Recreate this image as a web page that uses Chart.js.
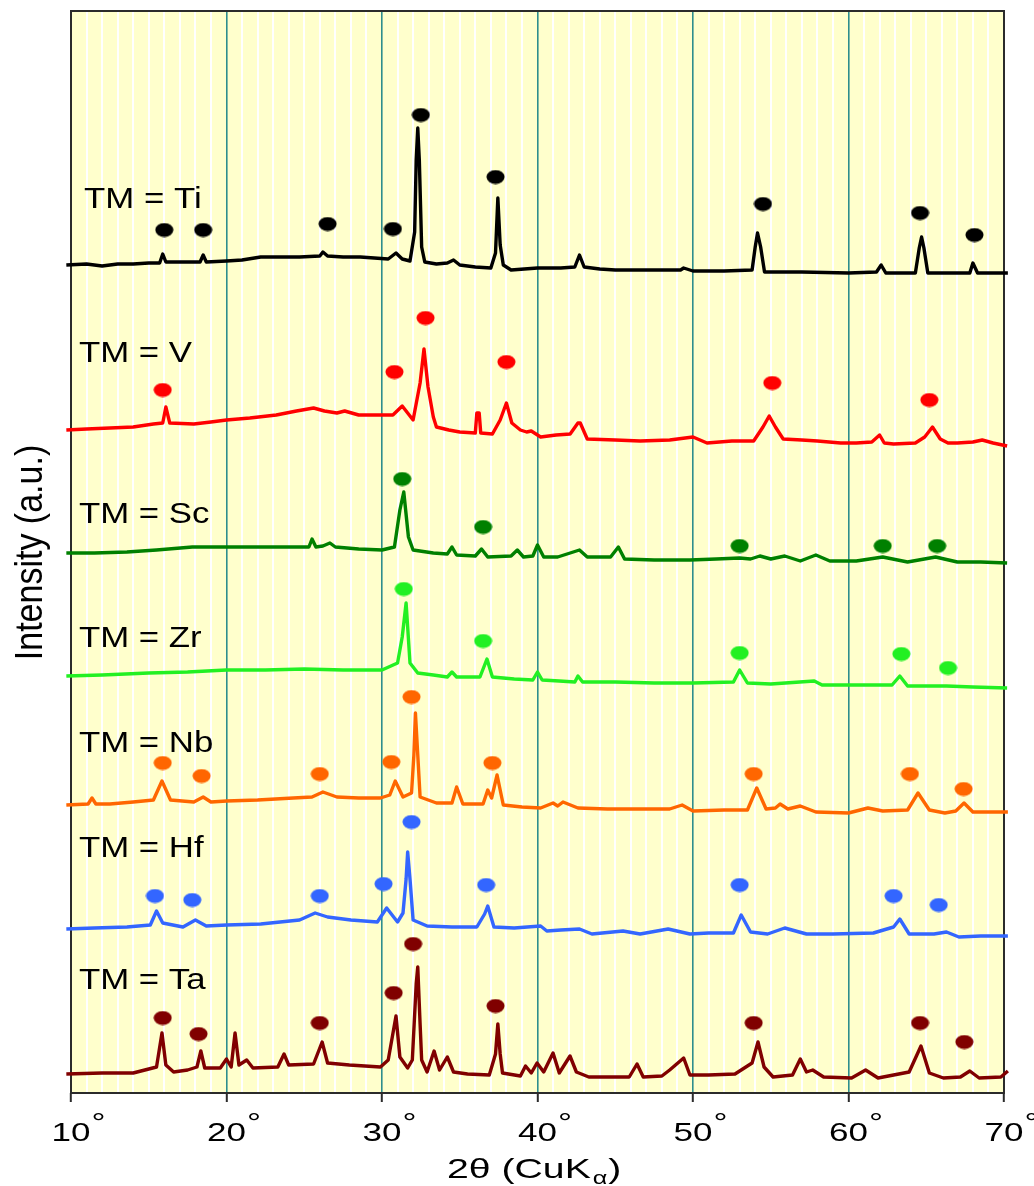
<!DOCTYPE html>
<html>
<head>
<meta charset="utf-8">
<script src="https://cdn.jsdelivr.net/npm/chart.js@4/dist/chart.umd.min.js"></script>
<style>
	html, body { margin: 0; padding: 0; background: #ffffff; }
	canvas { display: block; }
</style>
</head>
<body>
<canvas id="xrd" width="1034" height="1186"></canvas>
<script>
// XRD patterns, 2-theta (deg) vs. intensity (a.u.), one trace per TM.
var samples = ["Ti", "V", "Sc", "Zr", "Nb", "Hf", "Ta"];
var colors = ["#000000", "#ff0000", "#008000", "#22f022", "#ff6600", "#3366ff", "#800000"];
var offsets = [82.8, 66.3, 54.0, 41.7, 28.8, 16.4, 1.9];
var labelAt = [[10.84, 88.5], [10.51, 73.1], [10.51, 57.0], [10.51, 44.6], [10.51, 34.1], [10.51, 23.6], [10.51, 10.4]];
var xTicks = [10, 20, 30, 40, 50, 60, 70];

var ti = [[9.7,0],[11,0.1],[12,-0.1],[13,0.1],[14,0.1],[15,0.2],[15.7,0.2],[15.9,1.1],[16.1,0.3],[17,0.3],[18.3,0.3],[18.5,1.0],[18.7,0.3],[20,0.4],[21,0.5],[22.2,0.8],[23.5,0.8],[24.7,0.8],[26.0,0.9],[26.2,1.3],[26.5,0.9],[27.5,0.8],[28.6,0.8],[29.5,0.7],[30.4,0.6],[30.9,1.2],[31.3,0.6],[31.8,0.4],[32.1,3.3],[32.2,10.5],[32.3,13.7],[32.4,10.5],[32.55,1.8],[32.75,0.3],[33.5,0.1],[34.2,0.2],[34.6,0.5],[35.0,0],[36,-0.2],[37.0,-0.3],[37.3,1.2],[37.45,6.7],[37.6,2.0],[37.8,0],[38.3,-0.5],[40,-0.3],[41.5,-0.3],[42.4,-0.2],[42.7,1.0],[43.0,-0.2],[44,-0.4],[45,-0.5],[47,-0.5],[49.2,-0.5],[49.4,-0.3],[50,-0.6],[52,-0.6],[53.8,-0.5],[54.0,1.8],[54.15,3.2],[54.35,1.8],[54.6,-0.7],[57,-0.7],[60,-0.8],[61.8,-0.7],[62.1,0],[62.4,-0.8],[64.3,-0.8],[64.55,1.7],[64.7,2.8],[64.85,1.7],[65.1,-0.8],[67.8,-0.8],[68.0,0.2],[68.3,-0.8],[70.25,-0.8]];
var v = [[9.7,0],[11,0.1],[12.5,0.2],[14,0.3],[15.3,0.6],[15.9,0.7],[16.1,2.3],[16.35,0.7],[17.9,0.6],[19,0.8],[20,1.0],[21.5,1.2],[23.2,1.5],[24.5,1.9],[25.6,2.2],[26.3,1.9],[27.1,1.7],[27.6,1.9],[28.5,1.5],[29.7,1.5],[30.7,1.5],[31.3,2.4],[31.7,1.6],[32.0,1.0],[32.45,4.7],[32.7,8.1],[32.96,4.3],[33.3,1.3],[33.5,0.3],[34.3,0],[35,-0.2],[36.0,-0.3],[36.1,1.7],[36.25,1.7],[36.35,-0.3],[37.1,-0.4],[37.6,1.0],[38.0,2.7],[38.35,0.7],[38.9,0],[39.3,-0.2],[39.6,-0.1],[40.2,-0.7],[41.2,-0.5],[42.1,-0.4],[42.6,0.7],[42.75,0.7],[43.2,-0.9],[45,-1.0],[46.6,-1.1],[48.5,-1.0],[50.0,-0.7],[50.9,-1.3],[52.5,-1.1],[53.9,-1.1],[54.5,0.3],[54.9,1.4],[55.3,0.3],[55.8,-0.9],[57,-1.0],[58.0,-1.1],[59.5,-1.3],[60.5,-1.3],[61.5,-1.2],[62.0,-0.5],[62.3,-1.3],[62.9,-1.4],[64.3,-1.3],[64.9,-0.7],[65.4,0.3],[65.9,-0.9],[66.4,-1.3],[67.0,-1.3],[68.0,-1.2],[68.6,-1.0],[69.3,-1.3],[70.2,-1.6]];
var sc = [[9.7,0],[11.5,0],[13.6,0.1],[15.5,0.3],[17.8,0.6],[20,0.6],[22.2,0.6],[24.3,0.6],[25.3,0.6],[25.5,1.4],[25.75,0.6],[26.2,0.7],[26.65,1.0],[27.0,0.6],[28.5,0.4],[30.0,0.3],[30.8,0.6],[31.15,4.3],[31.4,6.1],[31.7,1.6],[32.0,0.3],[33.3,0.0],[34.2,-0.1],[34.5,0.6],[34.8,-0.2],[36.0,-0.3],[36.4,0.4],[36.8,-0.4],[38.3,-0.3],[38.7,0.3],[39.1,-0.4],[39.7,-0.3],[40.0,0.8],[40.4,-0.4],[41.3,-0.4],[42.7,0.3],[43.2,-0.4],[44.7,-0.4],[45.2,0.6],[45.6,-0.6],[47.5,-0.7],[49.8,-0.7],[51.5,-0.6],[53.0,-0.5],[53.7,-0.6],[54.3,-0.3],[55.0,-0.6],[55.9,-0.3],[56.9,-0.8],[57.9,-0.2],[58.8,-0.8],[60.5,-0.8],[62.2,-0.4],[63.8,-0.9],[65.6,-0.4],[67.0,-0.9],[68.5,-0.9],[70.2,-1.0]];
var zr = [[9.7,0],[12,0.1],[15,0.3],[17.5,0.4],[20,0.6],[22.5,0.6],[25,0.7],[27.5,0.6],[30,0.6],[31.0,1.3],[31.3,3.9],[31.55,7.3],[31.8,1.3],[32.3,0.3],[33.3,0.1],[34.2,-0.1],[34.5,0.4],[34.8,-0.1],[36.3,-0.1],[36.75,1.7],[37.1,-0.1],[38.5,-0.3],[39.7,-0.4],[40.0,0.4],[40.3,-0.4],[41.4,-0.5],[42.4,-0.6],[42.6,0],[42.9,-0.6],[45,-0.6],[47.5,-0.7],[50,-0.7],[52.6,-0.6],[53.0,0.6],[53.5,-0.7],[55,-0.8],[57.8,-0.5],[58.3,-0.9],[60.5,-0.9],[62.8,-0.9],[63.3,0],[63.8,-1.0],[66.3,-1.0],[68,-1.1],[70.2,-1.2]];
var nb = [[9.7,0],[11.1,0.1],[11.35,0.7],[11.6,0.1],[12.5,0.1],[14,0.3],[15.3,0.5],[15.85,2.4],[16.4,0.5],[17.9,0.3],[18.5,0.8],[19.0,0.3],[20.0,0.4],[22,0.5],[24.3,0.7],[25.5,0.8],[26.2,1.3],[27.1,0.8],[28.5,0.7],[29.9,0.7],[30.5,1.0],[30.85,2.4],[31.35,0.8],[31.9,1.2],[32.05,5],[32.15,9.2],[32.3,5],[32.45,0.8],[33.5,0.2],[34.5,0.2],[34.8,1.8],[35.2,0.1],[36.5,0.1],[36.8,1.5],[37.05,0.7],[37.4,3.0],[37.8,0],[39,-0.2],[40.2,-0.3],[41.0,0.2],[41.3,-0.1],[41.64,0.3],[42.6,-0.3],[44.5,-0.4],[46.6,-0.4],[48.5,-0.4],[49.3,0],[50.0,-0.6],[52,-0.5],[53.5,-0.5],[54.1,1.7],[54.7,-0.4],[55.3,-0.3],[55.6,0.1],[56.1,-0.4],[56.9,-0.1],[57.9,-0.7],[60.0,-0.8],[61.25,-0.3],[62.2,-0.6],[63.8,-0.5],[64.47,1.2],[65.2,-0.5],[66.2,-0.8],[66.9,-0.6],[67.43,0.2],[68.0,-0.7],[70.25,-0.7]];
var hf = [[9.7,0],[11.5,0.1],[13.6,0.2],[15.1,0.4],[15.5,1.8],[15.9,0.6],[17.2,0.2],[18.0,0.9],[18.7,0.3],[20,0.4],[22.2,0.5],[24.7,0.9],[25.7,1.6],[26.5,1.2],[28,0.9],[29.7,0.7],[30.3,2.1],[31.0,0.7],[31.35,1.6],[31.55,5],[31.65,7.7],[31.8,5],[32.0,0.9],[32.9,0.3],[34.5,0.2],[36.1,0.2],[36.6,1.5],[36.8,2.3],[37.2,0.2],[38.5,0.1],[40.2,0.3],[40.6,-0.2],[41.5,-0.1],[42.7,0],[43.5,-0.5],[45.5,-0.2],[46.6,-0.5],[48.4,0],[49.8,-0.5],[51,-0.4],[52.6,-0.4],[53.1,1.4],[53.7,-0.3],[54.8,-0.5],[55.9,0.1],[57.3,-0.5],[59,-0.5],[61.6,-0.4],[62.9,0.2],[63.3,1.0],[63.9,-0.5],[65.5,-0.5],[66.3,-0.3],[67.1,-0.8],[68.5,-0.7],[70.25,-0.7]];
var ta = [[9.7,0],[12,0.1],[14.0,0.1],[15.5,0.7],[15.85,4.1],[16.1,0.9],[16.6,0.2],[17.5,0.4],[18.1,0.7],[18.35,2.3],[18.6,0.6],[19.6,0.6],[20.0,1.5],[20.3,0.7],[20.55,4.1],[20.8,0.9],[21.3,1.4],[21.7,0.6],[23.3,0.7],[23.7,2.0],[24.0,0.9],[25.6,1.0],[26.15,3.2],[26.5,1.1],[27.9,0.9],[29.9,0.7],[30.4,1.4],[30.9,5.8],[31.15,1.7],[31.65,0.6],[31.95,1.4],[32.2,9],[32.3,10.7],[32.45,5],[32.55,1.4],[32.9,0.2],[33.35,2.3],[33.7,0.4],[34.2,1.7],[34.6,0.2],[35.5,0],[36.9,-0.1],[37.3,2],[37.45,5.0],[37.6,2],[37.75,0.1],[38.9,-0.2],[39.23,0.8],[39.6,0.1],[39.97,1.1],[40.4,0.2],[41.0,2.1],[41.4,0.1],[42.09,1.8],[42.5,0.2],[43.3,-0.3],[45.9,-0.3],[46.4,1.0],[46.8,-0.3],[48.0,-0.2],[48.5,0.4],[49.4,1.6],[49.8,-0.1],[51,-0.1],[52.7,0.0],[53.8,1.1],[54.18,3.2],[54.57,0.7],[55.15,-0.3],[56.4,-0.1],[56.9,1.5],[57.3,0.2],[57.7,0.4],[58.4,-0.3],[60.2,-0.4],[61.1,0.4],[61.9,-0.4],[63.9,0.2],[64.66,2.8],[65.2,0.1],[66.1,-0.4],[67.2,-0.3],[67.8,0.3],[68.4,-0.4],[69.8,-0.3],[70.25,0.3]];

// phase markers (2-theta, height above trace baseline)
var tiPeaks = [[16.0,3.5],[18.5,3.5],[26.5,4.1],[30.7,3.6],[32.5,15.0],[37.3,8.8],[54.5,6.1],[64.6,5.2],[68.1,3.0]];
var vPeaks = [[15.9,4.0],[30.8,5.8],[32.8,11.2],[38.0,6.8],[55.1,4.7],[65.2,3.0]];
var scPeaks = [[31.3,7.4],[36.5,2.6],[53.0,0.7],[62.2,0.7],[65.7,0.7]];
var zrPeaks = [[31.4,8.7],[36.5,3.5],[53.0,2.3],[63.4,2.2],[66.4,0.8]];
var nbPeaks = [[15.9,4.2],[18.4,2.9],[26.0,3.1],[30.6,4.3],[31.9,10.8],[37.1,4.2],[53.9,3.1],[63.95,3.1],[67.4,1.6]];
var hfPeaks = [[15.4,3.3],[17.8,2.9],[26.0,3.3],[30.1,4.5],[31.9,10.7],[36.7,4.4],[53.0,4.4],[62.9,3.3],[65.8,2.4]];
var taPeaks = [[15.9,5.6],[18.2,4.0],[26.0,5.1],[30.75,8.1],[32.0,13.0],[37.3,6.8],[53.9,5.1],[64.6,5.1],[67.45,3.2]];

var traces = [ti, v, sc, zr, nb, hf, ta];
var peaks = [tiPeaks, vPeaks, scPeaks, zrPeaks, nbPeaks, hfPeaks, taPeaks];

var FONT = '"Liberation Sans", Arial, sans-serif';

// filled ellipse used as the marker glyph
function dotImage(color) {
	var c = document.createElement("canvas");
	c.width = 19;
	c.height = 15;
	var g = c.getContext("2d");
	g.fillStyle = color;
	g.beginPath();
	g.ellipse(9.5, 7.5, 9, 7, 0, 0, Math.PI * 2);
	g.fill();
	return c;
}

function shift(list, off) {
	return list.map(function (p) {
		return { x: p[0], y: p[1] + off };
	});
}

var datasets = [];
samples.forEach(function (name, i) {
	datasets.push({
		label: "TM = " + name,
		data: shift(traces[i], offsets[i]),
		borderColor: colors[i],
		borderWidth: 3.4,
		borderJoinStyle: "round",
		pointRadius: 0,
		tension: 0,
		clip: false,
	});
	datasets.push({
		label: name + " peaks",
		data: shift(peaks[i], offsets[i]),
		showLine: false,
		pointStyle: dotImage(colors[i]),
		pointRadius: 9,
		backgroundColor: colors[i],
		borderColor: colors[i],
		clip: false,
	});
});

// draw text squeezed/stretched horizontally by k
function wideText(ctx, text, x, y, size, k, align) {
	ctx.save();
	ctx.font = size + "px " + FONT;
	ctx.fillStyle = "#000";
	ctx.textBaseline = "alphabetic";
	ctx.textAlign = align || "left";
	ctx.translate(x, y);
	ctx.scale(k, 1);
	ctx.fillText(text, 0, 0);
	var w = ctx.measureText(text).width * k;
	ctx.restore();
	return w;
}

var decorations = {
	id: "decorations",
	beforeDraw: function (chart) {
		var a = chart.chartArea, ctx = chart.ctx;
		ctx.save();
		ctx.fillStyle = "#ffffcc";
		ctx.fillRect(a.left, a.top, a.right - a.left, a.bottom - a.top);
		ctx.restore();
	},
	beforeDatasetsDraw: function (chart) {
		var a = chart.chartArea, ctx = chart.ctx;
		ctx.save();
		ctx.strokeStyle = "#2b2b2b";
		ctx.lineWidth = 2;
		ctx.strokeRect(a.left, a.top, a.right - a.left, a.bottom - a.top);
		ctx.restore();
	},
	afterDraw: function (chart) {
		var ctx = chart.ctx, xs = chart.scales.x, ys = chart.scales.y;
		var a = chart.chartArea;

		// tick labels with raised degree sign
		xTicks.forEach(function (t) {
			var px = xs.getPixelForValue(t);
			var w = wideText(ctx, String(t), px, a.bottom + 48, 25, 1.4, "center");
			wideText(ctx, "\u00b0", px + w / 2 + 1, a.bottom + 38, 25, 1.4, "left");
		});

		// sample labels
		samples.forEach(function (name, i) {
			wideText(ctx, "TM = " + name, xs.getPixelForValue(labelAt[i][0]), ys.getPixelForValue(labelAt[i][1]), 29, 1.2, "left");
		});

		// x axis title with subscript alpha
		var x0 = 447, base = a.bottom + 85;
		var w1 = wideText(ctx, "2\u03b8 (CuK", x0, base, 28, 1.4, "left");
		var w2 = wideText(ctx, "\u03b1", x0 + w1 + 2, base + 6, 18, 1.4, "left");
		wideText(ctx, ")", x0 + w1 + w2 + 3, base, 28, 1.4, "left");

		// y axis title
		ctx.save();
		ctx.font = "34px " + FONT;
		ctx.fillStyle = "#000";
		ctx.textAlign = "center";
		ctx.textBaseline = "alphabetic";
		ctx.translate(41.5, (a.top + a.bottom) / 2 + 0.5);
		ctx.rotate(-Math.PI / 2);
		ctx.scale(1, 1.16);
		ctx.fillText("Intensity (a.u.)", 0, 0);
		ctx.restore();
	},
};

Chart.defaults.font.family = FONT;

new Chart(document.getElementById("xrd"), {
	type: "line",
	data: { datasets: datasets },
	plugins: [decorations],
	options: {
		responsive: false,
		devicePixelRatio: 1,
		animation: false,
		events: [],
		layout: { padding: { left: 71, top: 11, right: 30, bottom: 0 } },
		plugins: {
			legend: { display: false },
			tooltip: { enabled: false },
		},
		scales: {
			x: {
				type: "linear",
				min: 10,
				max: 70,
				afterFit: function (scale) {
					scale.height = 93;
				},
				border: { display: false },
				grid: {
					color: function (c) {
						return c.tick && c.tick.value % 10 === 0 ? "#2e8e8e" : "#ffffff";
					},
					lineWidth: function (c) {
						return c.tick && c.tick.value % 10 === 0 ? 1.6 : 2;
					},
					tickColor: function (c) {
						return c.tick && c.tick.value % 10 === 0 ? "#2b2b2b" : "rgba(0,0,0,0)";
					},
					tickWidth: 2,
					tickLength: 9,
				},
				ticks: {
					stepSize: 1,
					autoSkip: false,
					maxRotation: 0,
					callback: function () {
						return "";
					},
				},
			},
			y: {
				display: false,
				min: 0,
				max: 108.2,
			},
		},
	},
});
</script>
</body>
</html>
